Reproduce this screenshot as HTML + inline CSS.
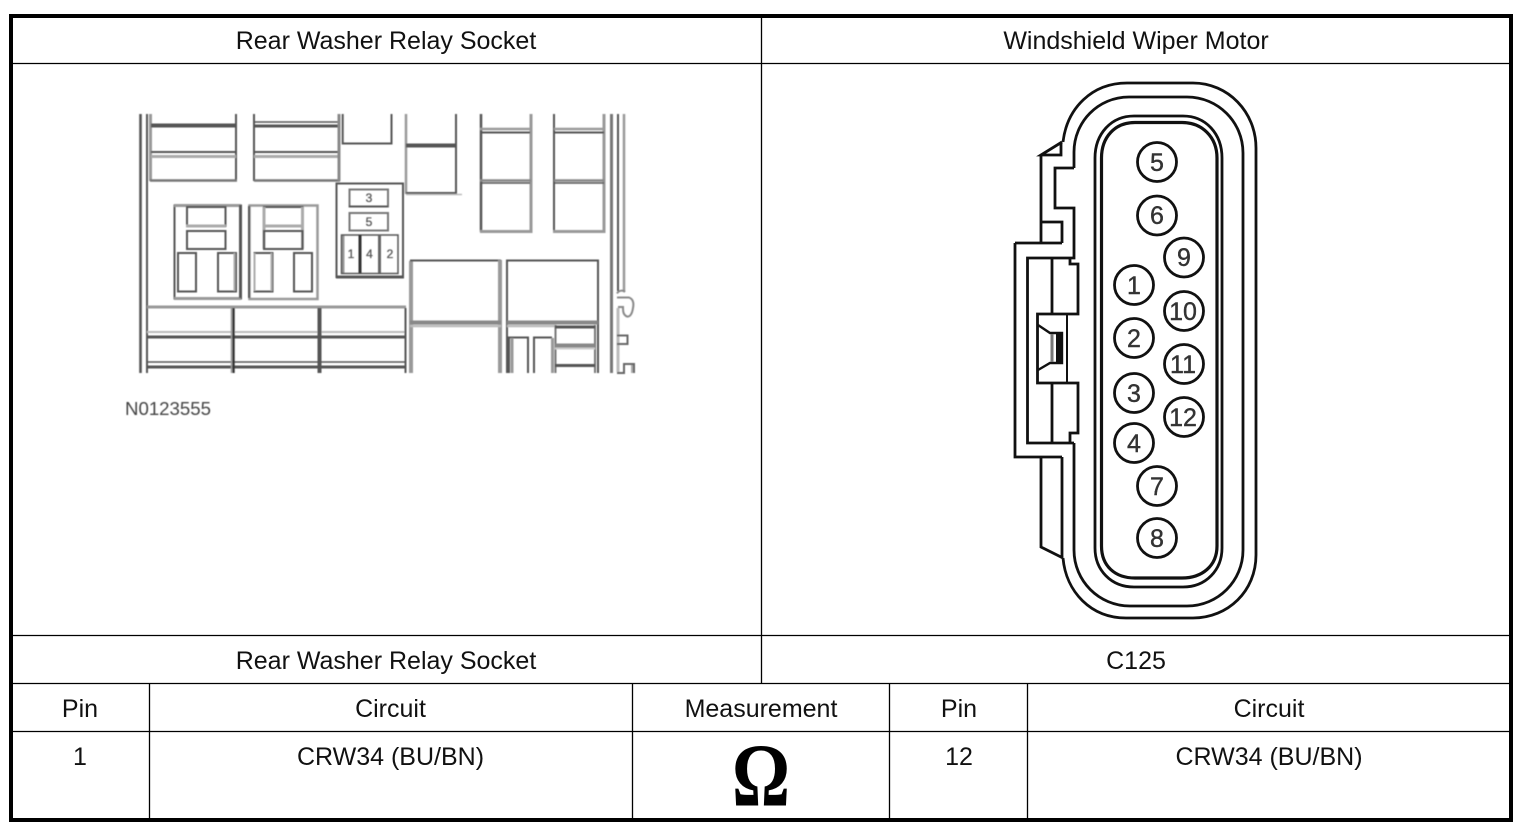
<!DOCTYPE html>
<html lang="en">
<head>
<meta charset="utf-8">
<title>Rear Washer Relay Socket</title>
<style>
html,body{margin:0;padding:0;background:#fff;width:1526px;height:830px;overflow:hidden}
svg{display:block}
.t{font-family:"Liberation Sans",sans-serif;font-size:25px;fill:#111;text-anchor:middle}
.n{font-family:"Liberation Sans",sans-serif;font-size:25px;fill:#333;stroke:#333;stroke-width:.4;text-anchor:middle}
.s{font-family:"Liberation Sans",sans-serif;font-size:12px;fill:#555;stroke:#555;stroke-width:.3;text-anchor:middle}
</style>
</head>
<body>
<svg width="1526" height="830" viewBox="0 0 1526 830" xmlns="http://www.w3.org/2000/svg">
<defs><filter id="b" x="-5%" y="-5%" width="110%" height="110%"><feGaussianBlur stdDeviation="0.45"/></filter></defs>
<rect width="1526" height="830" fill="#fff"/>

<!-- table -->
<g stroke="#000" stroke-width="1.3" fill="none">
<path d="M13 63.5H1509M13 635.5H1509M13 683.5H1509M13 731.5H1509"/>
<path d="M761.5 18V683M149.5 683V818M632.5 683V818M889.5 683V818M1027.5 683V818"/>
</g>
<rect x="11" y="16" width="1500" height="804" fill="none" stroke="#000" stroke-width="4"/>

<g>
<text class="t" x="386" y="49">Rear Washer Relay Socket</text>
<text class="t" x="1136" y="49">Windshield Wiper Motor</text>
<text class="t" x="386" y="669">Rear Washer Relay Socket</text>
<text class="t" x="1136" y="669">C125</text>
<text class="t" x="80" y="717">Pin</text>
<text class="t" x="390.5" y="717">Circuit</text>
<text class="t" x="761" y="717">Measurement</text>
<text class="t" x="959" y="717">Pin</text>
<text class="t" x="1269" y="717">Circuit</text>
<text class="t" x="80" y="765">1</text>
<text class="t" x="390.5" y="765">CRW34 (BU/BN)</text>
<text class="t" x="959" y="765">12</text>
<text class="t" x="1269" y="765">CRW34 (BU/BN)</text>
<text x="732" y="805.500" font-family="'Liberation Serif',serif" font-weight="bold" font-size="90" fill="#000" textLength="58" lengthAdjust="spacingAndGlyphs">&#937;</text>
</g>

<!-- fuse box diagram -->
<g filter="url(#b)" fill="none" stroke-linecap="butt">
<g stroke="#555" stroke-width="2">
<path stroke-width="2.6" d="M140.5 114V373"/>
<path d="M147 114V373"/>
<path stroke="#999" stroke-width="3" d="M150.5 114V181"/>
<path d="M236 114V181"/>
<path stroke-width="4" d="M151 125.5H236"/>
<path d="M151 152H236"/>
<path stroke="#aaa" stroke-width="3" d="M151 156.5H236"/>
<path stroke="#777" stroke-width="2.5" d="M150 180.5H237"/>
<path d="M254 114V181"/>
<path stroke-width="1.5" d="M254 122H339"/>
<path stroke-width="3" d="M254 126H339"/>
<path d="M254 152H339"/>
<path stroke="#aaa" stroke-width="3" d="M254 156.5H339"/>
<path stroke="#777" stroke-width="2.5" d="M254 180.5H340"/>
<path stroke="#888" stroke-width="3" d="M339 114V181"/>
<path d="M342.7 114V143.5H391.5V114"/>

<!-- upper middle box -->
<path stroke="#999" stroke-width="2.5" d="M406 114V194"/>
<path d="M456 114V194"/>
<path stroke-width="4" d="M406 145.5H456"/>
<path d="M406 193H456"/>
<path stroke="#bbb" stroke-width="1.5" d="M406 194.5H462"/>

<!-- upper right boxes -->
<path stroke-width="2.5" d="M481 114V232"/>
<path stroke="#999" stroke-width="3" d="M531 114V233"/>
<path stroke="#999" stroke-width="2.5" d="M480 129H531"/>
<path stroke-width="2" d="M481 132.5H530"/>
<path stroke="#888" stroke-width="2.5" d="M480 180.5H531"/>
<path stroke-width="1.5" d="M481 183H530"/>
<path stroke="#999" stroke-width="3" d="M480 231.5H532"/>
<path stroke-width="2" d="M554 114V232"/>
<path stroke="#999" stroke-width="3" d="M604 114V233"/>
<path stroke="#999" stroke-width="2.5" d="M554 129H604"/>
<path stroke-width="2" d="M554 132.5H604"/>
<path stroke="#888" stroke-width="2.5" d="M554 180.5H604"/>
<path stroke-width="1.5" d="M554 183H604"/>
<path stroke="#999" stroke-width="3" d="M553 231.5H605"/>

<!-- rails -->
<path stroke="#777" stroke-width="3" d="M611.5 114V373"/>
<path d="M618 114V291"/>
<path stroke="#999" stroke-width="2.5" d="M624 114V291"/>
<path stroke="#888" d="M617 293.5C619 290 623 290 625 292M617 297.5H629C633 299 634 303 633 308C632 315 629 318 626 316C623 314 623 311 623 307H618"/>
<path stroke="#bbb" stroke-width="3" d="M618 308V372"/>
<path stroke="#666" d="M617 335.5H627.5V344H617M617 373H624V364H634V373"/>
<path stroke="#aaa" stroke-width="2" d="M632 365V373"/>

<!-- 3/5/1/4/2 socket -->
<path d="M336.5 183.5H403V277H336.5Z"/>
<path stroke-width="3" d="M336 277H404"/>
<rect x="349.5" y="189.5" width="38.5" height="17" stroke="#777"/>
<path stroke="#555" d="M349 206.5H388"/>
<rect x="349.5" y="213" width="38.5" height="17.5" stroke="#777"/>
<path stroke="#999" stroke-width="3" d="M343 235V273"/>
<path stroke-width="1.5" d="M341.5 235H398V273.5H341.5Z"/>
<path stroke="#333" stroke-width="3" d="M360 235V273"/>
<path stroke="#666" stroke-width="3" d="M379.5 235V273"/>

<!-- relay left -->
<path d="M174.5 205.5H241V298.5H174.5Z"/>
<path stroke="#999" stroke-width="3" d="M174 205.5H241M174 298.5H241"/>
<path stroke-width="3" d="M240.5 205V298"/>
<rect x="187" y="207" width="38.5" height="19"/>
<path stroke="#aaa" stroke-width="3" d="M186 226H226"/>
<rect x="187" y="231" width="38.5" height="18"/>
<rect x="178" y="253" width="18" height="38.5"/>
<rect x="218" y="253" width="18" height="38.5"/>
<path stroke="#aaa" d="M234.5 253V291"/>

<!-- relay right -->
<path stroke="#999" stroke-width="2.5" d="M249.5 205.5H317.5V299H249.5Z"/>
<path stroke="#555" d="M249 206V298"/>
<rect x="264" y="207" width="38.5" height="19"/>
<path stroke="#aaa" stroke-width="3" d="M263 226H304M264 207V249M302.5 207V249"/>
<rect x="264" y="231" width="38.5" height="18"/>
<rect x="254.5" y="253" width="18" height="38.5"/>
<path stroke="#aaa" stroke-width="2" d="M254.5 253V291M271.5 253V291"/>
<rect x="294" y="253" width="18" height="38.5"/>

<!-- bottom grid -->
<path stroke="#999" stroke-width="3" d="M147 307H406"/>
<path stroke="#bbb" stroke-width="2" d="M147 332H406"/>
<path stroke-width="3" d="M147 337H406M147 367H406"/>
<path stroke-width="1.5" d="M147 362H406"/>
<path stroke="#333" stroke-width="2.4" d="M233.5 308V373"/>
<path stroke="#999" stroke-width="1.5" d="M231.5 308V373"/>
<path stroke-width="4" d="M319.5 308V373"/>
<path d="M405.5 308V373"/>

<!-- bottom right boxes -->
<path stroke="#999" stroke-width="4" d="M411 261V373"/>
<path d="M410 260.5H501"/>
<path stroke="#999" stroke-width="4" d="M500 260V373"/>
<path stroke="#888" stroke-width="4" d="M410 322.5H501"/>
<path stroke="#bbb" stroke-width="2.5" d="M410 326H501"/>
<path d="M507 373V260.5H598V373"/>
<path stroke="#888" stroke-width="4" d="M507 322.5H598"/>
<path stroke="#bbb" stroke-width="2.5" d="M507 326H555"/>
<path d="M509 373V337.5H528V373M534 373V337.5H552"/>
<path stroke="#999" stroke-width="3" d="M512 338V373M552.5 338V373"/>
<path stroke="#777" stroke-width="2" d="M555.5 325V373M595 325V373"/>
<path stroke-width="3" d="M555 327H595M555 365.5H595"/>
<path stroke="#888" stroke-width="4" d="M555 345.5H595"/>
<path stroke="#ccc" stroke-width="2" d="M555 348.5H595"/>
</g>

<g>
<text class="s" x="369" y="202">3</text>
<text class="s" x="369" y="226">5</text>
<text class="s" x="351" y="258">1</text>
<text class="s" x="369.5" y="258">4</text>
<text class="s" x="390" y="258">2</text>
</g>
<text x="125" y="415" font-family="'Liberation Sans',sans-serif" font-size="18" fill="#444" textLength="86" lengthAdjust="spacingAndGlyphs">N0123555</text>
</g>

<!-- connector -->
<g fill="none" stroke="#111" stroke-width="2.8" stroke-linejoin="miter">
<path d="M1063 142C1067 108 1092 83 1127 83H1193C1228 83 1256 112 1256 148V555C1256 591 1228 618 1193 618H1126C1091 618 1066 592 1063 558"/>
<path d="M1074 168V152C1074 122 1098 97 1129 97H1187C1218 97 1243 122 1243 153V550C1243 581 1218 606 1187 606H1130C1099 606 1074 581 1074 550V443"/>
<path stroke-width="2.8" d="M1095 158C1095 134 1111 116 1134 116H1183C1206 116 1222 134 1222 158V548C1222 570 1206 587 1183 587H1134C1111 587 1095 570 1095 548Z"/>
<path stroke-width="3.2" d="M1101.5 158C1101.5 137 1115 122.500 1135 122.500H1182C1202 122.500 1217 137 1217 158V546C1217 566 1202 578 1182 578H1135C1115 578 1101.500 566 1101.500 546Z"/>

<path d="M1074 168H1055V208H1074V258H1027.500V443H1074"/>
<path d="M1062 142L1041 155H1061V142"/>
<path d="M1041 155V243M1041 222H1062V243M1015 243H1062M1015 243V457H1062"/>
<path d="M1041 457V547L1063 558M1062 457V558"/>
<path d="M1052 258V314M1052 383V443"/>
<path d="M1070 259V264H1078V314H1037.500V383H1078V433H1070V443"/>
<path stroke-width="2" d="M1067 314V383"/>
<path stroke-width="2.4" d="M1038 325L1050 333H1062V363H1050L1038 370"/>
<path stroke="#777" stroke-width="3" d="M1052 334V362"/>
<rect x="1056" y="334" width="6" height="29" fill="#111" stroke="none"/>

<g stroke-width="2.800">
<circle cx="1157" cy="162" r="19.500"/>
<circle cx="1157" cy="215.500" r="19.500"/>
<circle cx="1184" cy="257.500" r="19.500"/>
<circle cx="1134" cy="285" r="19.500"/>
<circle cx="1184" cy="311" r="19.500"/>
<circle cx="1134" cy="338" r="19.500"/>
<circle cx="1184" cy="364" r="19.500"/>
<circle cx="1134" cy="393" r="19.500"/>
<circle cx="1184" cy="417" r="19.500"/>
<circle cx="1134" cy="443" r="19.500"/>
<circle cx="1157" cy="486" r="19.500"/>
<circle cx="1157" cy="538" r="19.500"/>
</g>
</g>
<g>
<text class="n" x="1157" y="171">5</text>
<text class="n" x="1157" y="224">6</text>
<text class="n" x="1184" y="266">9</text>
<text class="n" x="1134" y="294">1</text>
<text class="n" x="1183" y="320">10</text>
<text class="n" x="1134" y="347">2</text>
<text class="n" x="1183" y="373">11</text>
<text class="n" x="1134" y="402">3</text>
<text class="n" x="1183" y="426">12</text>
<text class="n" x="1134" y="452">4</text>
<text class="n" x="1157" y="495">7</text>
<text class="n" x="1157" y="547">8</text>
</g>
</svg>
</body>
</html>
